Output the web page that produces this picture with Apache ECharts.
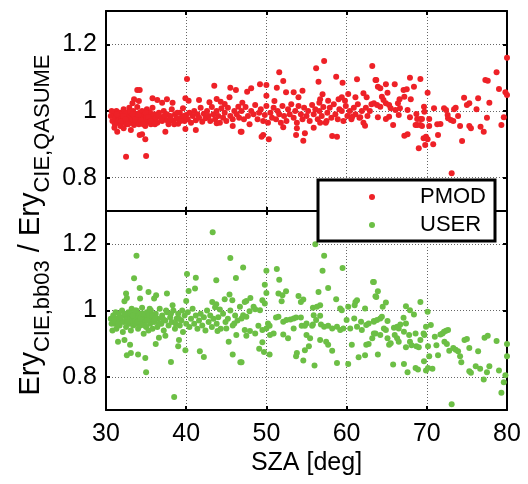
<!DOCTYPE html>
<html>
<head>
<meta charset="utf-8">
<script src="https://cdn.jsdelivr.net/npm/echarts@6/dist/echarts.min.js"></script>
<style>
html,body{margin:0;padding:0;background:#fff;}
#main{width:528px;height:484px;}
</style>
</head>
<body>
<div id="main"></div>
<script>
var seriesNames = ['PMOD', 'USER'];
var yTicks = [0.8, 1, 1.2];

// PMOD / QASUME ratio
var pmod = [
	[30.6,0.985],[30.8,0.97],[31.0,0.99],[31.1,0.96],[31.2,0.978],[31.3,1.0],[31.4,0.965],[31.5,0.985],[31.6,0.972],[31.7,0.995],
	[31.8,0.955],[31.9,0.98],[32.0,0.99],[32.1,0.968],[32.2,1.005],[32.3,0.975],[32.4,0.985],[32.5,0.96],[32.6,0.995],[32.7,0.978],
	[32.8,0.97],[32.9,1.01],[33.0,0.985],[33.1,0.965],[33.2,0.992],[33.3,0.975],[33.4,1.0],[33.5,0.958],[33.6,0.982],[33.7,0.97],
	[33.8,0.99],[33.9,1.012],[34.0,0.975],[34.1,0.96],[34.2,0.995],[34.3,0.98],[34.4,0.965],[34.5,1.0],[34.6,0.985],[34.7,0.97],
	[34.8,0.99],[34.9,0.955],[35.0,0.978],[35.1,1.005],[35.2,0.968],[35.3,0.988],[35.4,0.975],[35.5,0.995],[35.6,0.96],[35.7,0.98],
	[35.8,1.01],[35.9,0.97],[36.0,0.99],[36.2,0.978],[36.4,0.965],[36.6,0.995],[36.8,0.982],[37.0,0.97],[37.2,1.0],[37.4,0.975],
	[37.6,0.99],[37.8,0.96],[38.0,0.985],[38.2,1.005],[38.4,0.97],[38.6,0.99],[38.8,0.978],[39.0,0.962],[39.2,0.995],[39.4,0.98],
	[39.6,1.008],[39.8,0.97],[40.0,0.988],[40.2,0.975],[40.4,0.995],[40.6,0.965],[40.8,0.985],[41.0,1.0],[41.2,0.972],[41.4,0.99],
	[41.6,0.98],[41.8,1.01],[42.0,0.968],[42.2,0.992],[42.4,0.978],[42.6,1.0],[42.8,0.985],[43.0,0.97],[43.2,1.012],[43.4,0.99],
	[43.6,0.975],[43.8,1.0],[44.0,0.985],[44.2,0.965],[44.4,1.008],[44.6,0.98],[44.8,0.995],[45.0,0.97],[45.2,1.01],[45.5,0.985],
	[45.8,0.975],[46.0,1.0],[46.3,0.99],[46.6,0.98],
	[30.7,1.0],[31.05,0.95],[31.35,0.99],[31.85,0.97],[32.15,0.985],[32.45,0.975],[32.75,0.96],[33.05,1.0],[33.35,0.99],[33.65,0.975],
	[34.05,0.988],[34.35,0.972],[34.65,0.96],[34.95,0.995],[35.25,0.982],[35.55,0.97],[36.1,0.96],[36.5,0.988],[36.9,0.975],[37.3,0.985],
	[37.7,0.97],[38.1,0.975],[38.5,0.96],[38.9,0.995],[39.3,0.97],[39.7,0.985],
	[32.5,0.863],[35.0,0.865],[33.9,1.063],[34.2,1.063],[40.1,1.096],[43.5,1.076],[45.5,1.07],[46.2,1.063],[45.4,1.041],
	[34.2,0.928],[34.5,0.93],[34.9,0.915],[31.4,0.938],[32.2,0.948],[33.1,0.943],[37.4,0.938],[39.9,0.946],[41.2,0.943],
	[33.5,1.035],[34.1,1.03],[35.8,1.038],[36.4,1.033],[37.0,1.025],[37.6,1.035],[38.3,1.025],[39.9,1.038],[40.3,1.031],
	[41.6,1.033],[42.9,1.026],[43.8,1.036],[44.3,1.028],[44.8,1.021],[33.3,1.023],[46.5,1.013],[46.8,0.938],[43.8,0.963],[45.8,0.955],
	[46.9,1.0],[47.2,0.975],[47.4,1.012],[47.7,0.985],[47.9,0.96],[48.1,1.0],[48.4,0.99],[48.6,1.018],[48.9,0.975],[49.1,0.995],
	[49.3,1.005],[49.6,0.97],[49.8,0.988],[50.0,1.015],[50.2,0.965],[50.5,0.995],[50.7,0.98],[50.9,1.01],[51.2,0.975],[51.4,1.0],
	[51.6,0.99],[51.8,0.965],[52.0,1.015],[52.2,0.985],[52.5,0.97],[52.7,1.005],[52.9,0.99],[53.1,1.02],[53.4,0.98],[53.6,1.0],
	[53.8,0.965],[54.0,1.015],[54.3,0.99],[54.5,0.975],[54.7,1.01],[55.0,0.985],[55.2,1.0],[55.4,0.97],[55.7,1.018],[55.9,0.99],
	[56.1,1.005],[56.4,0.975],[56.6,1.0],[56.9,0.985],[57.1,1.012],[57.4,0.965],[57.6,0.995],[57.9,1.01],[58.1,0.98],[58.4,1.02],
	[58.6,0.99],[58.9,0.975],[59.1,1.005],[59.4,1.0],[59.6,0.97],[59.9,1.015],[60.1,0.985],[60.4,1.0],[60.6,0.975],[60.9,1.01],
	[61.1,0.99],[61.4,1.02],[61.6,0.98],[61.9,1.0],[62.1,0.965],[62.4,1.01],[62.6,0.985],[62.9,1.0],[63.1,1.02],
	[57.2,1.15],[56.2,1.128],[51.6,1.116],[52.1,1.09],[56.5,1.088],[58.7,1.103],[59.5,1.085],[49.2,1.08],[50.0,1.078],
	[48.1,1.068],[47.6,1.058],[51.3,1.07],[52.45,1.056],[53.4,1.056],[54.0,1.041],[54.5,1.061],[50.0,1.046],[61.3,1.095],
	[63.2,1.135],[63.6,1.093],[60.2,1.051],[62.1,1.053],[62.5,1.041],[61.1,1.041],[47.0,1.025],[51.0,1.03],[57.0,1.05],
	[56.7,1.035],[57.7,1.031],[56.6,1.025],[59.0,1.035],[59.4,1.041],[59.8,1.031],
	[46.9,0.938],[49.6,0.928],[49.4,0.923],[50.3,0.915],[52.1,0.951],[53.8,0.948],[53.7,0.928],[54.6,0.911],[54.8,0.933],
	[55.9,0.95],[56.7,0.965],[58.2,0.925],[58.8,0.923],[57.5,0.97],[60.7,0.983],[61.7,0.981],[62.3,0.956],
	[63.4,1.023],[63.8,1.018],[64.2,1.013],[64.9,1.023],[65.3,1.018],[65.5,1.008],[66.6,1.035],[66.4,1.023],[67.2,1.043],
	[68.0,1.035],[66.65,1.008],[66.1,1.003],[67.6,1.003],[64.4,1.043],[64.6,1.033],[69.65,1.013],[69.7,0.998],[70.9,1.008],
	[72.15,1.008],[72.4,1.003],[73.6,1.01],[73.4,1.005],[74.65,1.04],[75.0,1.018],[75.3,1.023],[76.4,1.038],[77.8,1.025],
	[76.2,1.005],[63.9,0.981],[64.9,0.976],[65.3,0.983],[65.8,0.958],[66.5,0.988],[67.9,0.981],[68.7,0.991],[68.8,0.976],
	[69.2,0.976],[69.4,0.976],[68.6,0.958],[68.8,0.958],[69.2,0.958],[69.4,0.955],[70.3,0.976],[70.3,0.955],[71.3,0.96],
	[71.7,0.961],[72.6,0.988],[72.65,0.978],[73.0,0.973],[73.3,0.97],[73.9,0.985],[74.15,0.955],[75.3,0.955],[75.5,0.948],
	[76.7,0.953],[77.1,0.938],[77.5,0.98],[79.3,0.958],[79.6,0.981],
	[80.0,1.16],[78.7,1.116],[77.3,1.093],[77.6,1.091],[79.0,1.066],[79.8,1.056],[80.0,1.048],[63.7,1.093],[67.9,1.1],
	[69.2,1.096],[66.0,1.08],[64.9,1.08],[64.2,1.068],[63.9,1.073],[67.1,1.063],[67.5,1.065],[68.4,1.073],[65.1,1.055],[70.1,1.055],
	[67.2,0.926],[67.6,0.93],[69.6,0.918],[69.9,0.923],[70.1,0.915],[69.8,0.898],[69.0,0.888],[70.8,0.9],[71.4,0.928],
	[74.4,0.91],[73.1,0.813]
];

// USER / QASUME ratio
var user = [
	[30.6,0.975],[30.8,0.94],[30.9,0.985],[31.1,0.96],[31.2,0.995],[31.3,0.945],[31.4,0.975],[31.6,0.99],[31.7,0.955],[31.8,0.97],
	[32.0,1.0],[32.1,0.935],[32.2,0.965],[32.4,0.985],[32.5,0.95],[32.6,0.975],[32.8,0.995],[32.9,0.96],[33.0,0.98],[33.1,0.94],
	[33.2,1.005],[33.3,0.97],[33.4,0.955],[33.5,0.99],[33.6,0.975],[33.7,0.96],[33.8,1.0],[33.9,0.985],[34.0,0.945],[34.1,0.97],
	[34.2,0.99],[34.3,0.955],[34.4,0.98],[34.5,1.008],[34.6,0.965],[34.7,0.93],[34.8,0.985],[34.9,0.97],[35.0,0.95],[35.1,0.995],
	[35.2,0.975],[35.3,0.94],[35.4,0.985],[35.5,0.96],[35.6,1.0],[35.7,0.97],[35.8,0.945],[35.9,0.985],[36.0,0.965],[36.2,0.99],
	[36.4,0.95],[36.5,0.975],[36.7,1.005],[36.9,0.96],[37.0,0.985],[37.2,0.94],[37.4,0.97],[37.6,0.995],[37.8,0.955],[38.0,0.98],
	[38.2,0.965],[38.4,1.0],[38.6,0.945],[38.8,0.975],[39.0,0.99],[39.2,0.955],[39.4,0.97],[39.6,0.935],[39.8,0.985],[40.0,0.96],
	[40.2,0.995],[40.4,0.95],[40.6,0.975],[40.8,1.005],[41.0,0.96],[41.2,0.985],[41.4,0.945],[41.6,0.97],[41.8,0.99],[42.0,0.955],
	[42.2,0.98],[42.4,0.94],[42.6,1.0],[42.8,0.965],[43.0,0.985],[43.2,0.95],[43.4,0.975],[43.6,1.01],[43.8,0.96],[44.0,0.98],
	[44.3,0.945],[44.6,0.99],[44.9,0.965],[45.2,0.975],[45.5,1.0],[45.8,0.955],[46.1,0.985],[46.4,0.97],
	[30.7,0.96],[31.0,0.97],[31.5,0.96],[31.9,0.98],[32.3,0.99],[32.7,0.965],[33.05,0.99],[33.35,0.985],[33.65,1.0],[33.95,0.965],
	[34.25,0.975],[34.55,0.99],[34.85,0.955],[35.15,0.97],[35.45,1.005],[35.75,0.985],[36.1,0.975],[36.6,0.96],[37.1,0.975],[37.5,1.0],
	[38.1,0.99],[38.7,0.96],[39.1,0.975],[39.5,1.0],
	[33.8,1.165],[33.5,1.097],[34.2,1.068],[32.5,1.051],[32.6,1.038],[32.3,1.028],[35.3,1.056],[36.25,1.046],[36.0,1.036],
	[37.6,1.051],[34.25,1.036],[38.3,1.016],[40.1,1.11],[40.3,1.059],[41.2,1.099],[41.1,1.066],[40.0,1.029],[45.5,1.158],
	[46.2,1.098],[43.75,1.091],[45.4,1.048],[45.75,1.031],[44.8,1.034],[43.25,1.026],[43.75,1.019],[44.2,1.003],[43.3,1.236],
	[31.5,0.906],[32.3,0.911],[33.0,0.897],[33.1,0.872],[32.6,0.865],[34.0,0.867],[34.9,0.857],[35.0,0.814],[36.2,0.899],
	[36.6,0.918],[37.4,0.924],[38.1,0.845],[38.5,0.739],[39.0,0.892],[39.1,0.911],[39.9,0.88],[41.7,0.877],[42.2,0.86],
	[45.3,0.906],[45.8,0.867],[46.75,0.844],[43.9,0.938],[45.0,0.946],[46.25,0.926],[46.0,0.961],
	[46.7,1.011],[47.1,0.986],[46.9,0.976],[47.5,0.981],[47.9,0.998],[48.4,1.011],[48.6,1.004],[49.2,1.001],[49.5,1.031],
	[49.8,1.021],[51.2,0.979],[51.5,0.981],[52.1,0.966],[52.5,0.971],[53.0,0.973],[53.4,0.976],[53.7,0.979],[54.3,0.979],
	[54.4,0.954],[54.8,0.954],[55.0,0.961],[55.7,0.954],[55.9,0.986],[56.7,0.984],[56.2,0.971],[55.8,0.958],[56.8,0.958],
	[57.2,0.951],[57.7,0.954],[58.2,0.946],[58.8,0.951],[59.2,0.941],[59.6,0.946],[60.0,0.971],[60.45,0.946],[60.95,0.976],
	[61.3,0.951],[61.8,0.966],[61.9,0.941],[62.45,0.956],[62.75,0.961],[63.4,0.966],
	[47.5,0.924],[47.3,0.941],[47.95,0.938],[48.6,0.931],[49.0,0.954],[49.5,0.941],[50.0,0.946],[50.45,0.926],[50.9,0.931],
	[50.2,0.961],[50.4,0.954],[49.1,0.885],[49.5,0.904],[49.7,0.875],[50.4,0.867],[46.9,0.844],[52.1,0.928],[52.7,0.916],
	[53.4,0.946],[53.8,0.872],[53.7,0.862],[54.6,0.849],[54.8,0.88],[55.3,0.892],[55.0,0.926],[55.45,0.916],[56.0,0.834],
	[56.7,0.911],[57.45,0.906],[57.7,0.897],[58.2,0.879],[58.8,0.842],[60.2,0.839],[60.65,0.897],[61.5,0.859],[62.3,0.865],
	[62.45,0.897],[62.75,0.899],[63.2,0.916],[63.6,0.931],
	[47.1,1.13],[50.0,1.12],[51.3,1.125],[51.6,1.093],[49.8,1.078],[50.0,1.053],[47.5,1.029],[47.3,1.026],[48.0,1.038],
	[51.5,1.051],[52.0,1.046],[52.45,1.058],[51.9,1.028],[54.0,1.044],[54.6,1.033],[54.3,1.026],[55.8,1.008],[56.1,1.2],
	[57.2,1.165],[57.0,1.12],[59.5,1.128],[57.7,1.068],[56.5,1.056],[56.7,1.016],[56.3,1.011],[58.7,1.034],[59.2,1.006],
	[59.4,1.001],[60.2,1.011],[61.1,1.026],[61.3,1.031],[61.0,1.016],[62.3,1.006],[63.3,1.086],[63.6,1.043],
	[63.4,0.968],[63.8,0.971],[64.2,0.976],[64.4,0.981],[65.1,0.968],[63.4,0.931],[64.2,0.926],[64.65,0.946],[64.9,0.941],
	[65.1,0.916],[65.3,0.897],[65.5,0.901],[65.9,0.948],[66.3,0.951],[66.5,0.946],[66.7,0.958],[67.1,0.978],[67.4,0.961],
	[66.0,0.926],[66.3,0.916],[66.5,0.906],[67.15,0.936],[67.8,0.926],[67.9,0.906],[67.4,0.889],[68.1,0.895],[68.6,0.931],
	[68.7,0.892],[69.0,0.889],[69.2,0.911],[69.6,0.931],[69.7,0.926],[69.9,0.951],[70.15,0.892],[70.5,0.956],[71.0,0.921],
	[71.2,0.895],[71.7,0.928],[71.95,0.931],[72.15,0.936],[72.4,0.939],[72.65,0.941],[72.2,0.906],[72.5,0.899],[72.8,0.879],
	[73.3,0.887],[73.6,0.882],[73.9,0.877],[74.15,0.862],[74.3,0.844],[74.7,0.911],[75.0,0.914],[75.3,0.887],[76.4,0.877],
	[77.2,0.918],[77.6,0.924],[78.7,0.908],[80.0,0.899],
	[80.0,0.862],[63.9,0.867],[65.8,0.837],[67.15,0.839],[67.6,0.814],[68.6,0.827],[68.9,0.822],[69.65,0.847],[69.9,0.819],
	[70.15,0.827],[70.3,0.862],[70.7,0.824],[71.4,0.865],[73.1,0.717],[75.3,0.817],[75.5,0.812],[76.1,0.832],[76.65,0.824],
	[77.8,0.832],[77.5,0.814],[77.1,0.792],[79.0,0.819],[79.8,0.805],[79.6,0.784],[79.3,0.752],
	[63.4,1.086],[63.9,1.058],[63.7,1.041],[64.9,1.024],[64.5,1.011],[69.2,1.026],[67.4,1.013],[67.9,1.001],[68.4,0.988],[70.1,0.996]
];

var font = 'Liberation Sans, Arial, sans-serif';

function xAx(grid, pos, labels) {
	return {
		type: 'value', gridIndex: grid, position: pos,
		min: 30, max: 80, interval: 10,
		axisLine: { show: true, onZero: false, lineStyle: { color: '#000', width: 2 } },
		axisTick: { show: true, inside: true, length: 4, lineStyle: { color: '#000', width: 2 } },
		axisLabel: { show: labels, color: '#000', fontSize: 25, fontFamily: font, margin: 12 },
		splitLine: { show: pos == 'bottom', lineStyle: { color: '#666', type: [1, 2], width: 1 } },
		name: labels ? 'SZA [deg]' : '',
		nameLocation: 'middle', nameGap: 41,
		nameTextStyle: { color: '#000', fontSize: 25, fontFamily: font }
	};
}
function yAx(grid, pos) {
	return {
		type: 'value', gridIndex: grid, position: pos,
		min: 0.7, max: 1.3,
		axisLine: { show: true, onZero: false, lineStyle: { color: '#000', width: 2 } },
		axisTick: { show: true, inside: true, length: 4, customValues: yTicks, lineStyle: { color: '#000', width: 2 } },
		axisLabel: { show: pos == 'left', customValues: yTicks, color: '#000', fontSize: 25, fontFamily: font, margin: 9,
			formatter: function (v) { return String(Math.round(v * 10) / 10); } },
		splitLine: { show: pos == 'left', lineStyle: { color: '#666', type: [1, 2], width: 1 } }
	};
}

var myChart = echarts.init(document.getElementById('main'), null, { renderer: 'canvas' });
var option = {
	backgroundColor: '#fff',
	animation: false,
	grid: [
		{ left: 106, top: 11, width: 401, height: 200 },
		{ left: 106, top: 211, width: 401, height: 199 }
	],
	xAxis: [xAx(0, 'bottom', false), xAx(0, 'top', false), xAx(1, 'bottom', true), xAx(1, 'top', false)],
	yAxis: [yAx(0, 'left'), yAx(0, 'right'), yAx(1, 'left'), yAx(1, 'right')],
	legend: {
		data: seriesNames,
		orient: 'vertical',
		left: 318, top: 180,
		padding: [6, 9, 5, 51],
		itemGap: 6,
		itemWidth: 6, itemHeight: 6,
		icon: 'circle',
		borderColor: '#000', borderWidth: 3,
		backgroundColor: '#fff',
		textStyle: { color: '#000', fontSize: 22, fontFamily: font, padding: [0, 0, 0, 40] }
	},
	graphic: [{
		type: 'text',
		x: 35, y: 225,
		rotation: Math.PI / 2,
		style: {
			text: '{a|Ery}{b|CIE,bb03}{a| / Ery}{b|CIE,QASUME}',
			align: 'center', verticalAlign: 'middle',
			fill: '#000',
			rich: {
				a: { fontSize: 29, fontFamily: font, fill: '#000', verticalAlign: 'top' },
				b: { fontSize: 22, fontFamily: font, fill: '#000', lineHeight: 38, verticalAlign: 'bottom' }
			}
		}
	}],
	series: [
		{ name: seriesNames[0], type: 'scatter', xAxisIndex: 0, yAxisIndex: 0, data: pmod,
			symbolSize: 6, itemStyle: { color: '#ee2127', opacity: 1 } },
		{ name: seriesNames[1], type: 'scatter', xAxisIndex: 2, yAxisIndex: 2, data: user,
			symbolSize: 6, itemStyle: { color: '#6cbf45', opacity: 1 } }
	]
};
myChart.setOption(option);
</script>
</body>
</html>
